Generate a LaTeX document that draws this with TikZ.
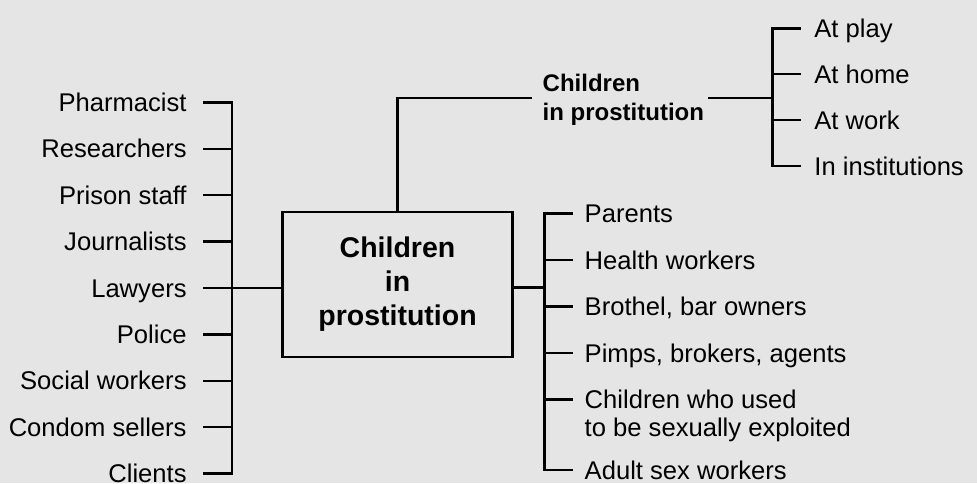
\documentclass[tikz,border=0pt]{standalone}
\usepackage{fontspec}
\setmainfont{Liberation Sans}

\definecolor{paper}{gray}{0.9}

\begin{document}
\begin{tikzpicture}[x=0.5pt,y=-0.5pt]
  \tikzset{item/.style = {inner sep=0pt, align=left, font=\fontsize{12.8}{14}\selectfont}}
  \tikzset{sublabel/.style = {inner sep=0pt, align=left, font=\bfseries\fontsize{12}{14.8}\selectfont}}
  \tikzset{mainbox/.style = {draw, line width=1.1pt, inner sep=0pt, minimum width=115pt, minimum height=72.8pt, align=center, font=\bfseries\fontsize{14.25}{17}\selectfont}}
  \tikzset{link/.style = {line width=1.2pt, line cap=rect}}

  \fill[paper] (0,0) rectangle (977,483);

  \node[mainbox] (main) at (397.5,284.5) {Children\\in\\prostitution};

  % who is around the children
  \foreach \who [count=\i from 0] in {Pharmacist, Researchers, Prison staff, Journalists, Lawyers, Police, Social workers, Condom sellers, Clients} {
    \coordinate (Ls\i) at (232,102.3+46.4*\i);
    \node[item, anchor=base east] (L\i) at (187,111.5+46.4*\i) {\who};
    \draw[link, shorten <=8.5pt] (Ls\i -| L\i.east) -- (Ls\i);
  }
  \draw[link] (Ls0) -- (Ls8);
  \draw[link] (Ls4) -- (Ls4 -| main.west);

  % who is close to them (base = last line)
  \coordinate (Rj) at (544.3,287.3);
  \foreach \who/\y/\dy [count=\i from 0] in {Parents/213.3/9.2, Health workers/259.8/9.2, {Brothel, bar owners}/306.3/9.2, {Pimps, brokers, agents}/352.8/9.2, Children who used\\to be sexually exploited/399.3/37.2, Adult sex workers/470/9.2} {
    \coordinate (Rs\i) at (544.3,\y);
    \node[item, anchor=base west] (R\i) at (584.3,\y+\dy) {\who};
    \draw[link, shorten >=6.3pt] (Rs\i) -- (Rs\i -| R\i.west);
  }
  \draw[link] (Rs0) -- (Rs5);
  \draw[link] (main.east |- Rj) -- (Rj);

  % where they are met
  \node[sublabel, anchor=base west] (sub) at (542.3,120.6) {Children\\in prostitution};
  \coordinate (Tj) at (772.3,98);
  \draw[link, shorten >=5.8pt] (main.north) |- (sub.west |- Tj);
  \draw[link, shorten <=2.6pt] (sub.east |- Tj) -- (Tj);
  \foreach \where [count=\i from 0] in {At play, At home, At work, In institutions} {
    \coordinate (Ts\i) at (772.3,28.3+45.9*\i);
    \node[item, anchor=base west] (T\i) at (814,37.5+45.9*\i) {\where};
    \draw[link, shorten >=7pt] (Ts\i) -- (Ts\i -| T\i.west);
  }
  \draw[link] (Ts0) -- (Ts3);
\end{tikzpicture}
\end{document}
